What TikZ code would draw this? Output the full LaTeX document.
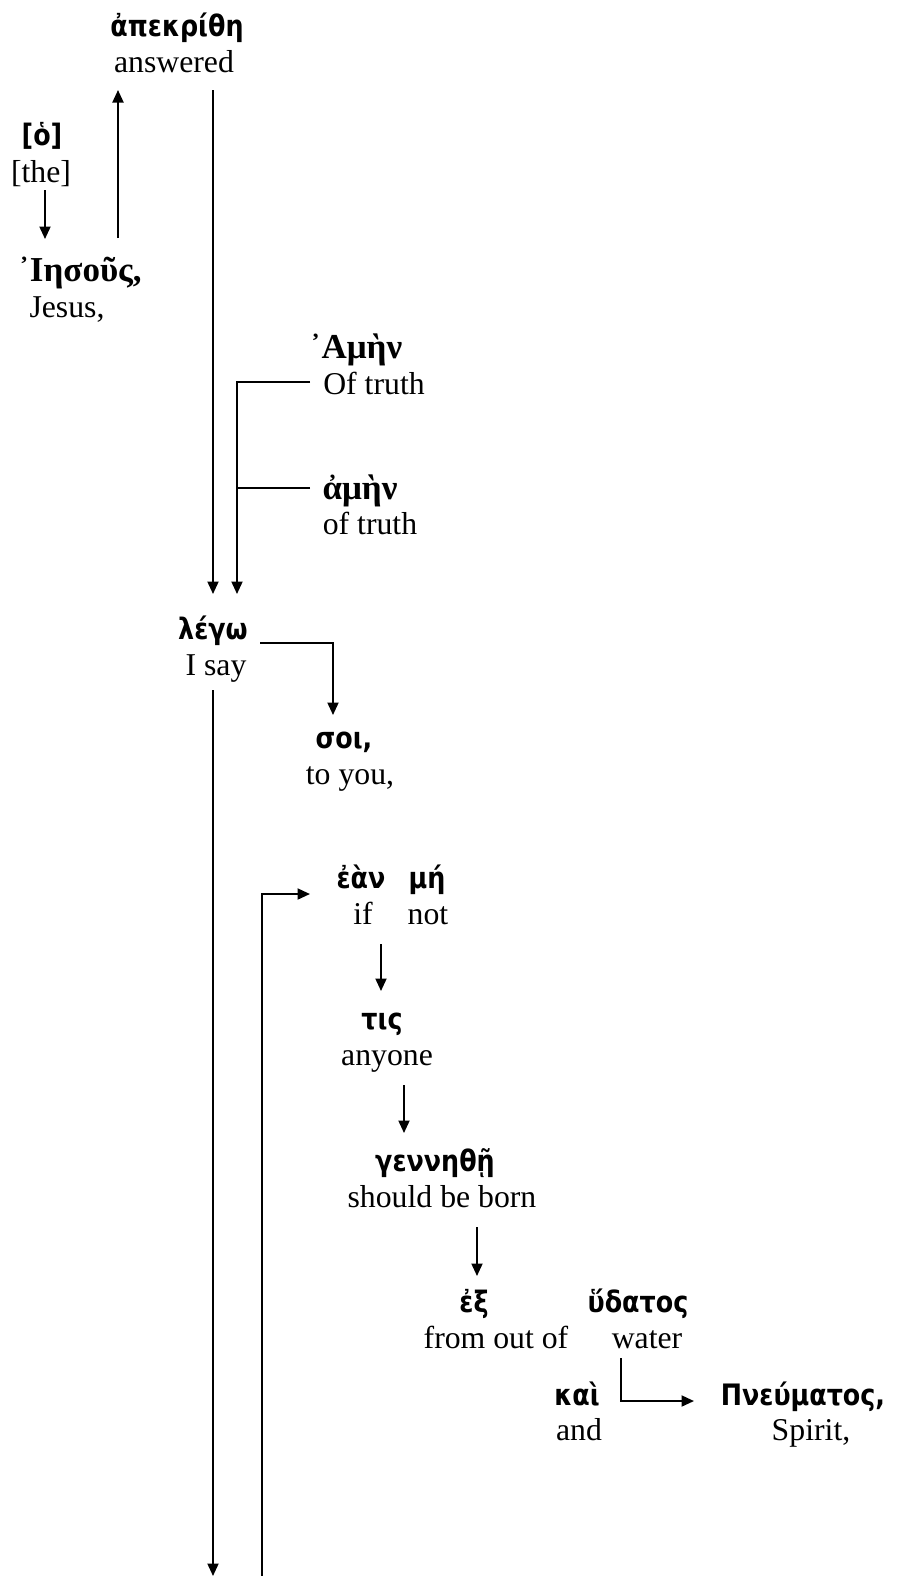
\documentclass[tikz,border=0pt]{standalone}
\usepackage{fontspec}
\setmainfont{Liberation Serif}
\newfontfamily\grsans[FakeStretch=0.86]{DejaVu Sans}
\newfontfamily\grserif{Liberation Serif}
\usetikzlibrary{arrows.meta}
\begin{document}
\begin{tikzpicture}[x=0.4pt,y=-0.4pt,
  en/.style={font=\fontsize{12.7}{15}\selectfont, inner sep=0pt, anchor=base},
  gs/.style={font=\grsans\bfseries\fontsize{11.8}{14}\selectfont, inner sep=0pt, anchor=base},
  gt/.style={font=\grserif\bfseries\fontsize{14}{16}\selectfont, inner sep=0pt, anchor=base},
  conn/.style={line width=0.8pt},
  arr/.style={conn,-{Triangle[length=5pt,width=4.4pt]}}]
\useasboundingbox (0,0) rectangle (900,1576);
% words
\node[gs] (apek) at (177,36) {ἀπεκρίθη};
\node[en] (apekE) at (174,72) {answered};
\node[gs] (ho) at (42,145) {[ὁ]};
\node[en] (hoE) at (41,182) {[the]};
\node[gt] (iesous) at (80,281) {᾿Ιησοῦς,};
\node[en] (iesousE) at (67,317) {Jesus,};
\node[gt] (amen1) at (356,358) {᾿Αμὴν};
\node[en] (amen1E) at (374,394) {Of truth};
\node[gt] (amen2) at (360,499) {ἀμὴν};
\node[en] (amen2E) at (370,534) {of truth};
\node[gs] (lego) at (213,639) {λέγω};
\node[en] (legoE) at (216,675) {I say};
\node[gs] (soi) at (344,748) {σοι,};
\node[en] (soiE) at (350,784) {to you,};
\node[gs] (ean) at (361,888) {ἐὰν};
\node[gs] (me) at (427,888) {μή};
\node[en] (eanE) at (363,924) {if};
\node[en] (meE) at (428,924) {not};
\node[gs] (tis) at (382,1029) {τις};
\node[en] (tisE) at (387,1065) {anyone};
\node[gs] (genn) at (435,1171) {γεννηθῇ};
\node[en] (gennE) at (442,1207) {should be born};
\node[gs] (ex) at (474,1312) {ἐξ};
\node[en] (exE) at (496,1348) {from out of};
\node[gs] (hydatos) at (638,1312) {ὕδατος};
\node[en] (hydatosE) at (647,1348) {water};
\node[gs] (kai) at (577,1405) {καὶ};
\node[en] (kaiE) at (579,1440) {and};
\node[gs] (pneum) at (803,1405) {Πνεύματος,};
\node[en] (pneumE) at (811,1440) {Spirit,};
% connector ends
\coordinate (c1a) at (118,238); \coordinate (c1b) at (118,90);
\coordinate (c2a) at (45,190); \coordinate (c2b) at (45,239);
\coordinate (c3a) at (213,90); \coordinate (c3b) at (213,594);
\coordinate (c4a) at (310,382); \coordinate (c4b) at (237,382); \coordinate (c4c) at (237,594);
\coordinate (c5a) at (310,488); \coordinate (c5b) at (237,488);
\coordinate (c6a) at (260,643); \coordinate (c6b) at (333,643); \coordinate (c6c) at (333,715);
\coordinate (c7a) at (213,690); \coordinate (c7b) at (213,1576);
\coordinate (c8a) at (262,1576); \coordinate (c8b) at (262,894); \coordinate (c8c) at (310,894);
\coordinate (c9a) at (381,944); \coordinate (c9b) at (381,991);
\coordinate (c10a) at (404,1085); \coordinate (c10b) at (404,1133);
\coordinate (c11a) at (477,1227); \coordinate (c11b) at (477,1276);
\coordinate (c12a) at (621,1358); \coordinate (c12b) at (621,1401); \coordinate (c12c) at (694,1401);
% connectors
\draw[arr] (c1a) -- (c1b);
\draw[arr] (c2a) -- (c2b);
\draw[arr] (c3a) -- (c3b);
\draw[arr] (c4a) -- (c4b) -- (c4c);
\draw[conn] (c5a) -- (c5b);
\draw[arr] (c6a) -- (c6b) -- (c6c);
\draw[arr] (c7a) -- (c7b);
\draw[arr] (c8a) -- (c8b) -- (c8c);
\draw[arr] (c9a) -- (c9b);
\draw[arr] (c10a) -- (c10b);
\draw[arr] (c11a) -- (c11b);
\draw[arr] (c12a) -- (c12b) -- (c12c);
\end{tikzpicture}
\end{document}
